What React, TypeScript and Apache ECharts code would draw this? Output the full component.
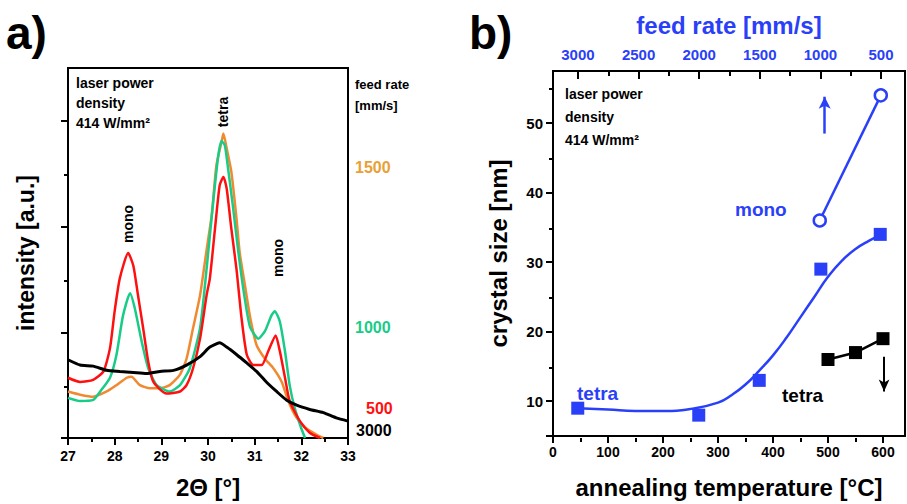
import React, { useEffect, useRef } from "react";
import * as echarts from "echarts";

const FONT = "'Liberation Sans', Arial, sans-serif";
const BLUE = "#2A40F8";
const RED = "#FF1010";
const GREEN = "#18CC88";
const ORANGE = "#F08A32";
const GOLD = "#E9A036";

// ---- panel a: XRD patterns (2Θ [°], intensity [a.u.]) ----
const xrd3000: number[][] = [
  [27.0, 0.74], [27.26, 0.69], [27.54, 0.68], [27.83, 0.64], [28.11, 0.63], [28.4, 0.62],
  [28.68, 0.61], [28.97, 0.63], [29.26, 0.64], [29.54, 0.69], [29.83, 0.77], [30.04, 0.86],
  [30.25, 0.9], [30.4, 0.86], [30.61, 0.79], [30.83, 0.71], [31.04, 0.63], [31.25, 0.53],
  [31.47, 0.44], [31.68, 0.36], [31.9, 0.31], [32.18, 0.27], [32.47, 0.24], [32.75, 0.19], [33.0, 0.16],
];
const xrd500: number[][] = [
  [27.0, 0.57], [27.26, 0.53], [27.54, 0.55], [27.76, 0.63], [27.9, 0.85], [28.0, 1.2],
  [28.11, 1.51], [28.29, 1.75], [28.4, 1.63], [28.5, 1.35], [28.61, 1.04], [28.72, 0.72],
  [28.83, 0.53], [29.11, 0.42], [29.4, 0.44], [29.54, 0.5], [29.68, 0.66], [29.83, 0.94],
  [29.97, 1.35], [30.04, 1.51], [30.15, 1.98], [30.25, 2.39], [30.33, 2.47], [30.4, 2.36],
  [30.5, 1.98], [30.61, 1.6], [30.72, 1.13], [30.83, 0.79], [30.97, 0.69], [31.15, 0.69],
  [31.29, 0.82], [31.45, 0.97], [31.54, 0.82], [31.65, 0.57], [31.75, 0.35], [31.97, 0.16],
  [32.18, 0.05], [32.4, 0.0],
];
const xrd1000: number[][] = [
  [27.0, 0.38], [27.26, 0.35], [27.54, 0.36], [27.69, 0.44], [27.9, 0.57], [28.04, 0.79],
  [28.18, 1.16], [28.33, 1.37], [28.43, 1.23], [28.58, 0.91], [28.72, 0.66], [28.9, 0.5],
  [29.18, 0.44], [29.4, 0.5], [29.61, 0.66], [29.83, 1.04], [29.97, 1.6], [30.11, 2.23],
  [30.22, 2.67], [30.29, 2.81], [30.36, 2.77], [30.43, 2.55], [30.54, 2.17], [30.65, 1.76],
  [30.76, 1.4], [30.9, 1.05], [31.08, 0.94], [31.22, 1.01], [31.36, 1.16], [31.43, 1.2],
  [31.54, 1.1], [31.65, 0.82], [31.75, 0.5], [31.86, 0.28], [32.0, 0.09], [32.08, 0.0],
];
const xrd1500: number[][] = [
  [27.0, 0.44], [27.26, 0.41], [27.54, 0.39], [27.83, 0.44], [28.04, 0.5], [28.26, 0.57],
  [28.36, 0.58], [28.54, 0.5], [28.76, 0.47], [28.97, 0.47], [29.18, 0.5], [29.4, 0.6],
  [29.54, 0.75], [29.68, 1.04], [29.83, 1.35], [29.97, 1.78], [30.08, 2.11], [30.18, 2.58],
  [30.29, 2.8], [30.33, 2.88], [30.4, 2.74], [30.5, 2.52], [30.61, 2.08], [30.68, 1.75],
  [30.79, 1.45], [30.9, 1.15], [31.04, 0.88], [31.22, 0.75], [31.4, 0.66], [31.58, 0.53],
  [31.72, 0.35], [31.9, 0.19], [32.11, 0.09], [32.33, 0.03], [32.47, 0.0],
];
const intensityMajor = [0, 1, 2, 3];
const intensityMinor = [0.5, 1.5, 2.5];

// ---- panel b: crystal size vs annealing temperature ----
const tempTetra = [45, 265, 375, 487, 595];
const sizeTetra = [9, 8, 13, 29, 34];
const fitTemp = [45, 100, 150, 200, 250, 300, 325, 350, 375, 400, 425, 450, 475, 500, 525, 550, 575, 595];
const fitSize = [9.0, 8.8, 8.6, 8.6, 8.9, 9.8, 10.9, 12.4, 14.4, 16.6, 19.2, 22.1, 25.0, 27.9, 30.2, 31.9, 33.1, 33.9];
const tempMono = [485, 596];
const sizeMono = [36, 54];
const tempTetraFeed = [500, 550, 600];
const sizeTetraFeed = [16, 17, 19];
const tempMajor = [0, 100, 200, 300, 400, 500, 600];
const tempMinor = [50, 150, 250, 350, 450, 550];
const sizeMajor = [5, 10, 20, 30, 40, 50];
const sizeLabels = [10, 20, 30, 40, 50];
const sizeMinor = [15, 25, 35, 45, 55];
const feedMajor = [500, 1000, 1500, 2000, 2500, 3000];
const feedMinor = [750, 1250, 1750, 2250, 2750];

const pairs = (xs: number[], ys: number[]) => xs.map((x, i) => [x, ys[i]]);

const tickStyle = { color: "#000", width: 2 };
const axLine = { show: true, onZero: false, lineStyle: { color: "#000", width: 2 } };
const lbl = (size: number, color = "#000", margin = 10) => ({
  fontFamily: FONT, fontWeight: "bold" as const, fontSize: size, color, margin,
  formatter: (v: number) => String(v),
});
const nameStyle = (color = "#000", size = 24) => ({ fontFamily: FONT, fontWeight: "bold" as const, fontSize: size, color });

const txt = (text: string, x: number, y: number, size: number, fill = "#000", extra: any = {}) => ({
  type: "text", x, y, silent: true, rotation: extra.rotation || 0,
  style: {
    text, fill, fontFamily: FONT, fontWeight: "bold", fontSize: size,
    align: extra.align || "left", verticalAlign: extra.verticalAlign || "middle",
    lineHeight: extra.lineHeight,
  },
});

export default function App() {
  const ref = useRef<HTMLDivElement>(null);
  useEffect(() => {
    if (!ref.current) return;
    const chart = echarts.init(ref.current, undefined, { renderer: "svg" });
    const gridA = { left: 68, top: 68, width: 280, height: 372 };
    const gridB = { left: 553, top: 71, width: 352, height: 367 };
    const option: any = {
      animation: false,
      backgroundColor: "#fff",
      grid: [
        { ...gridA, show: true, borderColor: "#000", borderWidth: 2, containLabel: false },
        { ...gridB, show: true, borderColor: "#000", borderWidth: 2, containLabel: false },
        { ...gridB, show: false },
        { ...gridA, show: false },
      ],
      xAxis: [
        {
          gridIndex: 0, type: "value", min: 27, max: 33, interval: 1,
          axisLine: axLine,
          axisTick: { show: true, length: 7, lineStyle: tickStyle },
          minorTick: { show: true, splitNumber: 2, length: 4, lineStyle: tickStyle },
          splitLine: { show: false }, minorSplitLine: { show: false },
          axisLabel: lbl(14, "#000", 11),
          name: "2Θ [°]", nameLocation: "middle", nameGap: 37, nameTextStyle: nameStyle(),
        },
        {
          gridIndex: 1, type: "value", min: 0, max: 640, position: "bottom",
          axisLine: axLine,
          axisTick: { show: true, length: 7, lineStyle: tickStyle, customValues: tempMajor },
          splitLine: { show: false },
          axisLabel: { ...lbl(14, "#000", 9), customValues: tempMajor },
          name: "annealing temperature [°C]", nameLocation: "middle", nameGap: 39, nameTextStyle: nameStyle(),
        },
        {
          gridIndex: 1, type: "value", min: 302, max: 3206, inverse: true, position: "top",
          axisLine: axLine,
          axisTick: { show: true, inside: true, length: 8, lineStyle: tickStyle, customValues: feedMajor },
          splitLine: { show: false },
          axisLabel: { ...lbl(15, BLUE, 9), customValues: feedMajor },
          name: "feed rate [mm/s]", nameLocation: "middle", nameGap: 34, nameTextStyle: nameStyle(BLUE),
        },
        {
          gridIndex: 2, type: "value", min: 0, max: 640, position: "bottom",
          axisLine: { show: false },
          axisTick: { show: true, length: 4, lineStyle: tickStyle, customValues: tempMinor },
          splitLine: { show: false }, axisLabel: { show: false },
        },
        {
          gridIndex: 2, type: "value", min: 302, max: 3206, inverse: true, position: "top",
          axisLine: { show: false },
          axisTick: { show: true, inside: true, length: 5, lineStyle: tickStyle, customValues: feedMinor },
          splitLine: { show: false }, axisLabel: { show: false },
        },
        {
          gridIndex: 3, type: "value", min: 27, max: 33,
          axisLine: { show: false }, axisTick: { show: false }, splitLine: { show: false }, axisLabel: { show: false },
        },
      ],
      yAxis: [
        {
          gridIndex: 0, type: "value", min: 0, max: 3.5,
          axisLine: axLine,
          axisTick: { show: true, length: 7, lineStyle: tickStyle, customValues: intensityMajor },
          splitLine: { show: false }, axisLabel: { show: false },
          name: "intensity [a.u.]", nameLocation: "middle", nameGap: 31, nameTextStyle: nameStyle("#000", 23),
        },
        {
          gridIndex: 1, type: "value", min: 5, max: 57.5,
          axisLine: axLine,
          axisTick: { show: true, length: 7, lineStyle: tickStyle, customValues: sizeMajor },
          splitLine: { show: false },
          axisLabel: { ...lbl(15, "#000", 10), customValues: sizeLabels },
          name: "crystal size [nm]", nameLocation: "middle", nameGap: 43, nameTextStyle: nameStyle(),
        },
        {
          gridIndex: 2, type: "value", min: 5, max: 57.5,
          axisLine: { show: false },
          axisTick: { show: true, length: 4, lineStyle: tickStyle, customValues: sizeMinor },
          splitLine: { show: false }, axisLabel: { show: false },
        },
        {
          gridIndex: 3, type: "value", min: 0, max: 3.5,
          axisLine: { show: false },
          axisTick: { show: true, length: 4, lineStyle: tickStyle, customValues: intensityMinor },
          splitLine: { show: false }, axisLabel: { show: false },
        },
      ],
      series: [
        { name: "1500", type: "line", xAxisIndex: 0, yAxisIndex: 0, data: xrd1500, showSymbol: false, smooth: 0.2,
          lineStyle: { color: ORANGE, width: 2.5 }, itemStyle: { color: ORANGE } },
        { name: "1000", type: "line", xAxisIndex: 0, yAxisIndex: 0, data: xrd1000, showSymbol: false, smooth: 0.2,
          lineStyle: { color: GREEN, width: 2.5 }, itemStyle: { color: GREEN } },
        { name: "500", type: "line", xAxisIndex: 0, yAxisIndex: 0, data: xrd500, showSymbol: false, smooth: 0.2,
          lineStyle: { color: RED, width: 2.5 }, itemStyle: { color: RED } },
        { name: "3000", type: "line", xAxisIndex: 0, yAxisIndex: 0, data: xrd3000, showSymbol: false, smooth: 0.2,
          lineStyle: { color: "#000", width: 3 }, itemStyle: { color: "#000" } },
        { name: "fit", type: "line", xAxisIndex: 1, yAxisIndex: 1, data: pairs(fitTemp, fitSize), showSymbol: false,
          smooth: 0.5, lineStyle: { color: BLUE, width: 2.5 }, itemStyle: { color: BLUE } },
        { name: "tetra", type: "scatter", xAxisIndex: 1, yAxisIndex: 1, data: pairs(tempTetra, sizeTetra),
          symbol: "rect", symbolSize: 13, itemStyle: { color: BLUE, opacity: 1 } },
        { name: "mono", type: "line", xAxisIndex: 1, yAxisIndex: 1, data: pairs(tempMono, sizeMono),
          symbol: "circle", symbolSize: 12, showSymbol: true,
          lineStyle: { color: BLUE, width: 2.5 },
          itemStyle: { color: "#fff", borderColor: BLUE, borderWidth: 2.5, opacity: 1 },
          markLine: {
            silent: true, symbol: ["none", "arrow"], symbolSize: [9, 12], label: { show: false },
            lineStyle: { color: BLUE, width: 2.5, type: "solid" },
            data: [[{ coord: [494, 48.5] }, { coord: [494, 53.8] }]],
          } },
        { name: "tetra feed", type: "line", xAxisIndex: 1, yAxisIndex: 1, data: pairs(tempTetraFeed, sizeTetraFeed),
          symbol: "rect", symbolSize: 13, showSymbol: true,
          lineStyle: { color: "#000", width: 2.5 }, itemStyle: { color: "#000", opacity: 1 },
          markLine: {
            silent: true, symbol: ["none", "arrow"], symbolSize: [8, 12], label: { show: false },
            lineStyle: { color: "#000", width: 2, type: "solid" },
            data: [[{ coord: [602, 16.4] }, { coord: [602, 11.4] }]],
          } },
      ],
      graphic: [
        txt("a)", 6, 33, 46),
        txt("b)", 469, 33, 46),
        txt("laser power\ndensity\n414 W/mm²", 76, 73, 14, "#000", { verticalAlign: "top", lineHeight: 20 }),
        txt("feed rate\n[mm/s]", 355, 74, 13, "#000", { verticalAlign: "top", lineHeight: 21 }),
        txt("1500", 355, 167, 16, GOLD),
        txt("1000", 355, 327, 16, GREEN),
        txt("500", 366, 408, 16, RED),
        txt("3000", 356, 430, 16, "#000"),
        txt("mono", 128, 224, 14, "#000", { align: "center", rotation: Math.PI / 2 }),
        txt("tetra", 223, 112, 14, "#000", { align: "center", rotation: Math.PI / 2 }),
        txt("mono", 278, 258, 14, "#000", { align: "center", rotation: Math.PI / 2 }),
        txt("laser power\ndensity\n414 W/mm²", 565, 82, 14, "#000", { verticalAlign: "top", lineHeight: 23 }),
        txt("mono", 735, 209, 19, BLUE),
        txt("tetra", 577, 393, 19, BLUE),
        txt("tetra", 782, 395, 19, "#000"),
      ],
    };
    chart.setOption(option);
    return () => chart.dispose();
  }, []);
  return (
    <div
      ref={ref}
      style={{ position: "absolute", left: 0, top: 0, width: 907, height: 504, background: "#fff" }}
    />
  );
}
